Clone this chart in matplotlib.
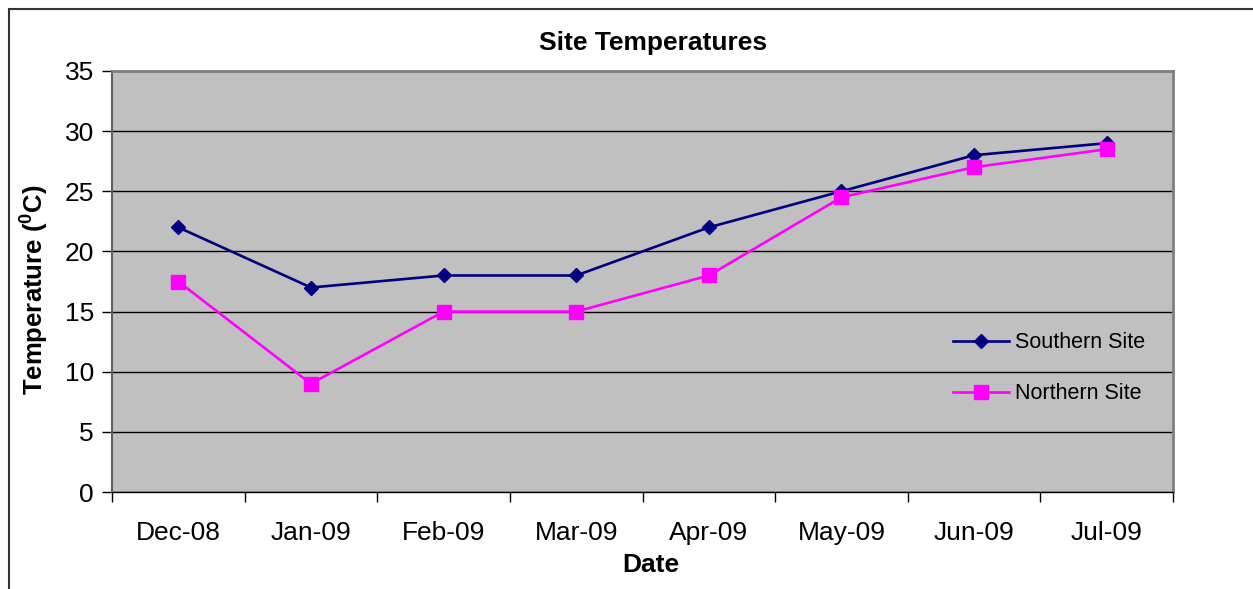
import matplotlib
matplotlib.use("Agg")
import matplotlib.pyplot as plt
from matplotlib.lines import Line2D

months = ["Dec-08", "Jan-09", "Feb-09", "Mar-09", "Apr-09", "May-09", "Jun-09", "Jul-09"]
southern = [22, 17, 18, 18, 22, 25, 28, 29]
northern = [17.5, 9, 15, 15, 18, 24.5, 27, 28.5]
yticks = [0, 5, 10, 15, 20, 25, 30, 35]

plt.rcParams['font.family'] = ['Liberation Sans', 'DejaVu Sans']
plt.rcParams['mathtext.fontset'] = 'custom'
plt.rcParams['mathtext.rm'] = 'Liberation Sans'
plt.rcParams['mathtext.bf'] = 'Liberation Sans:bold'

W, H = 1253, 589
fig = plt.figure(figsize=(W / 100, H / 100), dpi=100)
ax = fig.add_axes([112 / W, 1 - 492 / H, (1173 - 112) / W, (492 - 71) / H])
ax.set_facecolor('#C0C0C0')

x = list(range(len(months)))
ax.plot(x, southern, color='#000080', lw=1.9, marker='D', ms=7.5, mfc='#000080', mec='#000080',
        label='Southern Site', zorder=4)
ax.plot(x, northern, color='#FF00FF', lw=1.9, marker='s', ms=10.5, mfc='#FF00FF', mec='#FF00FF',
        label='Northern Site', zorder=5)

ax.set_xlim(-0.5, len(months) - 0.5)
ax.set_ylim(0, 35)
ax.set_yticks(yticks)
ax.set_yticklabels([str(v) for v in yticks], fontsize=19)
ax.set_xticks(x)
ax.set_xticklabels(months, fontsize=19)
ax.tick_params(axis='x', which='major', length=0, pad=21)
ax.set_xticks([i - 0.5 for i in range(len(months) + 1)], minor=True)
ax.tick_params(axis='x', which='minor', length=7, width=1, color='black', direction='out')
ax.tick_params(axis='y', length=7, width=1, direction='out', pad=6)

ax.grid(axis='y', color='black', lw=1)
ax.set_axisbelow(True)
for s in ['top', 'right']:
    ax.spines[s].set_color('#808080')
    ax.spines[s].set_linewidth(2)
ax.spines['bottom'].set_color('#000000')
ax.spines['bottom'].set_linewidth(1)
ax.spines['left'].set_color('#606060')
ax.spines['left'].set_linewidth(1.5)

leg = ax.legend(loc='center left', bbox_to_anchor=(0.774, 0.294), frameon=False,
                fontsize=15.5, handlelength=2.6, handletextpad=0.3, labelspacing=1.4)

fig.text(653 / W, 1 - 43 / H, 'Site Temperatures', ha='center', va='center',
         fontsize=19, fontweight='bold')
fig.text(651 / W, 1 - 565 / H, 'Date', ha='center', va='center', fontsize=19, fontweight='bold')
fig.text(35 / W, 1 - 290 / H, r'Temperature ($\mathbf{^{0}}$C)', ha='center', va='center',
         rotation=90, fontsize=18.5, fontweight='bold')

# outer chart frame (partially visible)
fig.add_artist(Line2D([8.5 / W, 8.5 / W], [0, 1 - 8.5 / H], color='#333333', lw=1.5,
                      transform=fig.transFigure))
fig.add_artist(Line2D([8.5 / W, 1], [1 - 8.5 / H, 1 - 8.5 / H], color='#333333', lw=1.5,
                      transform=fig.transFigure))

fig.savefig('out.png', dpi=100)
